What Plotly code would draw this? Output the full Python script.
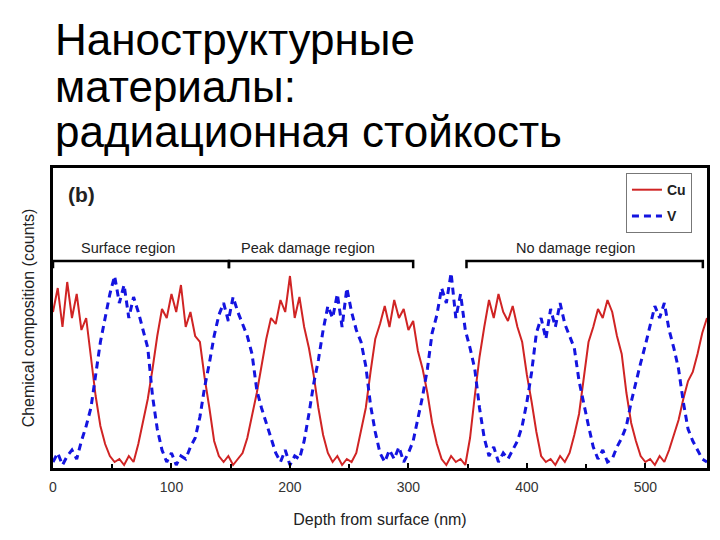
import plotly.graph_objects as go

# глубина (нм) и профили состава
depth = [0, 4, 8, 12, 16, 20, 24, 28, 32, 36, 40, 44, 48, 52, 56, 60, 64, 68, 72, 76,
         80, 84, 88, 92, 96, 100, 104, 108, 112, 116, 120, 124, 128, 132, 136, 140, 144, 148, 152, 156,
         160, 164, 168, 172, 176, 180, 184, 188, 192, 196, 200, 204, 208, 212, 216, 220, 224, 228, 232, 236,
         240, 244, 248, 252, 256, 260, 264, 268, 272, 276, 280, 284, 288, 292, 296, 300, 304, 308, 312, 316,
         320, 324, 328, 332, 336, 340, 344, 348, 352, 356, 360, 364, 368, 372, 376, 380, 384, 388, 392, 396,
         400, 404, 408, 412, 416, 420, 424, 428, 432, 436, 440, 444, 448, 452, 456, 460, 464, 468, 472, 476,
         480, 484, 488, 492, 496, 500, 504, 508, 512, 516, 520, 524, 528, 532, 536, 540, 544, 548, 552]

cu = [52, 60, 47, 62, 50, 58, 46, 50, 37, 24, 14, 8, 4, 2, 3, 1, 4, 2, 8, 15,
      23, 33, 44, 53, 50, 58, 52, 61, 47, 52, 44, 42, 30, 20, 9, 4, 2, 4, 1, 3,
      5, 10, 17, 25, 34, 43, 50, 48, 56, 52, 64, 50, 57, 47, 40, 31, 20, 11, 5, 2,
      4, 1, 3, 2, 5, 12, 20, 32, 43, 48, 54, 47, 56, 50, 53, 46, 49, 39, 33, 25,
      15, 8, 3, 1, 4, 2, 3, 1, 10, 24, 37, 47, 56, 50, 58, 52, 49, 54, 47, 42,
      31, 22, 12, 4, 2, 3, 1, 4, 2, 5, 11, 18, 31, 42, 47, 53, 50, 56, 52, 44,
      38, 25, 15, 9, 4, 2, 3, 1, 4, 2, 6, 11, 16, 23, 29, 32, 38, 45, 50]

v = [2, 5, 1, 4, 6, 3, 9, 14, 20, 31, 42, 50, 58, 64, 55, 61, 50, 57, 52, 46,
     40, 24, 13, 6, 2, 5, 1, 4, 3, 7, 10, 17, 27, 35, 44, 51, 55, 49, 57, 52,
     48, 44, 38, 26, 20, 15, 10, 5, 2, 6, 1, 4, 3, 9, 18, 28, 36, 46, 54, 50,
     58, 47, 60, 52, 46, 42, 34, 21, 12, 5, 2, 6, 3, 7, 2, 5, 9, 16, 24, 33,
     45, 51, 60, 55, 65, 50, 58, 46, 40, 33, 20, 10, 4, 7, 2, 5, 3, 6, 9, 14,
     22, 32, 45, 50, 43, 53, 47, 55, 48, 44, 40, 29, 21, 14, 7, 3, 6, 2, 3, 7,
     10, 14, 22, 29, 35, 41, 48, 54, 50, 55, 46, 40, 33, 22, 13, 9, 6, 3, 2]

# области по глубине
region_names = ['Surface region', 'Peak damage region', 'No damage region']
region_start = [0, 148.5, 349]
region_end = [148.5, 304, 548.5]
region_label_x = [63, 215, 441]

title_lines = ['Наноструктурные', 'материалы:', 'радиационная стойкость']

FONT = 'Liberation Sans, Arial'

fig = go.Figure()

fig.add_trace(go.Scatter(x=depth, y=cu, name='Cu', mode='lines', legendgroup='cu',
                         line=dict(color='#d02424', width=2)))
fig.add_trace(go.Scatter(x=depth, y=v, name='V', mode='lines', legendgroup='v',
                         line=dict(color='#1414e0', width=3, dash='7px,5px')))

# скобки областей
for s, e in zip(region_start, region_end):
    fig.add_shape(type='path', xref='x', yref='y',
                  path=f'M {s},66.6 L {s},69 L {e},69 L {e},66.6',
                  line=dict(color='black', width=2.5))

for name, xc in zip(region_names, region_label_x):
    fig.add_annotation(x=xc, y=73.5, xref='x', yref='y', text=name, showarrow=False,
                       font=dict(family=FONT, size=14.5, color='#222'))

fig.add_annotation(x=0.043, y=0.913, xref='paper', yref='paper', text='<b>(b)</b>',
                   showarrow=False, xanchor='center', yanchor='middle',
                   font=dict(family=FONT, size=21, color='#222'))

# заголовок слайда
for line, yp in zip(title_lines, [1.43, 1.272, 1.122]):
    fig.add_annotation(x=0.0, y=yp, xref='paper', yref='paper', text=line,
                       showarrow=False, xanchor='left', yanchor='middle',
                       font=dict(family=FONT, size=44, color='black'))

fig.update_layout(
    width=720, height=540,
    margin=dict(l=45, r=21, t=160, b=80),
    paper_bgcolor='white', plot_bgcolor='white',
    showlegend=True,
    legend=dict(x=0.977, y=0.983, xanchor='right', yanchor='top',
                bgcolor='white', bordercolor='#777', borderwidth=1,
                tracegroupgap=5,
                font=dict(family=FONT, size=14, color='#222', weight='bold')),
    xaxis=dict(range=[0, 552], tickvals=[0, 100, 200, 300, 400, 500],
               ticks='inside', ticklen=5, tickcolor='black', tickwidth=1.5,
               minor=dict(tickvals=[50, 150, 250, 350, 450], ticks='inside', ticklen=4,
                          tickcolor='black', tickwidth=1.5),
               showline=True, linecolor='black', linewidth=2.5, mirror=True,
               showgrid=False, zeroline=False, ticklabelstandoff=4,
               tickfont=dict(family=FONT, size=14, color='#333'),
               title=dict(text='Depth from surface (nm)', standoff=21,
                          font=dict(family=FONT, size=16, color='#222'))),
    yaxis=dict(range=[0, 100], showticklabels=False, ticks='',
               showline=True, linecolor='black', linewidth=2.5, mirror=True,
               showgrid=False, zeroline=False,
               title=dict(text='Chemical composition (counts)', standoff=12,
                          font=dict(family=FONT, size=16, color='#222'))),
)

fig.write_html("out.html")
